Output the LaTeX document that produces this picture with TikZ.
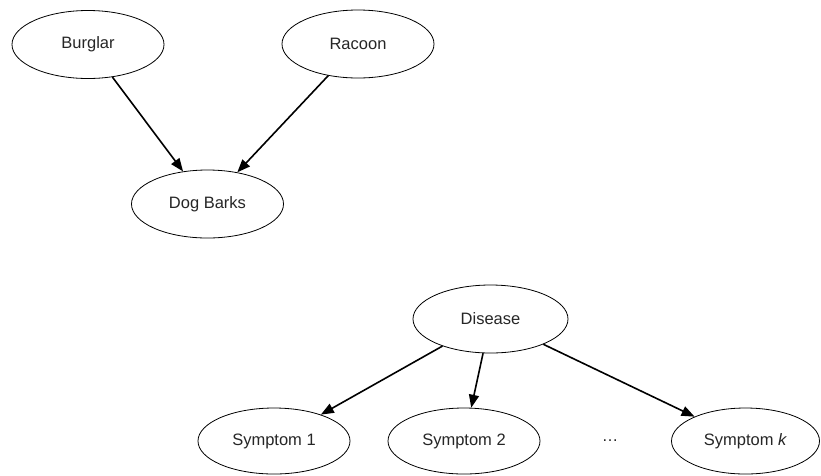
\documentclass[tikz,border=0pt]{standalone}
\usepackage{fontspec}
\setmainfont{Liberation Sans}
\usetikzlibrary{shapes.geometric,arrows.meta}

\begin{document}
\begin{tikzpicture}[x=1pt,y=-1pt,
  var/.style={ellipse,draw=black,line width=0.8pt,fill=white,
    minimum width=152pt,minimum height=68pt,inner sep=0pt,
    font=\fontsize{16.5}{19}\selectfont,text=black!85},
  edge/.style={line width=1.6pt,-{Triangle[length=13pt,width=10pt]}}]
  \useasboundingbox (0,0) rectangle (821,475);

  % first network: two causes of a barking dog
  \node[var] (burglar) at (88,44.5) {Burglar};
  \node[var] (racoon)  at (358,44) {Racoon};
  \node[var] (dog)     at (207.5,204) {Dog Barks};

  \draw[edge] (burglar) -- (dog);
  \draw[edge] (racoon) -- (dog);

  % second network: one disease with k symptoms
  \node[var,minimum width=155pt] (disease) at (490.5,319) {Disease};
  \node[var,minimum height=66pt] (s1) at (274,441) {Symptom 1};
  \node[var,minimum height=66pt] (s2) at (464,441) {Symptom 2};
  \node[var,minimum width=148pt,minimum height=66pt] (sk) at (745.5,441) {Symptom \textit{k}};
  \node[font=\fontsize{16.5}{19}\selectfont,text=black!85] (dots) at (610,441) {\dots};

  \draw[edge] (disease) -- (s1);
  \draw[edge] (disease) -- (s2);
  \draw[edge] (disease) -- (sk);
\end{tikzpicture}
\end{document}
